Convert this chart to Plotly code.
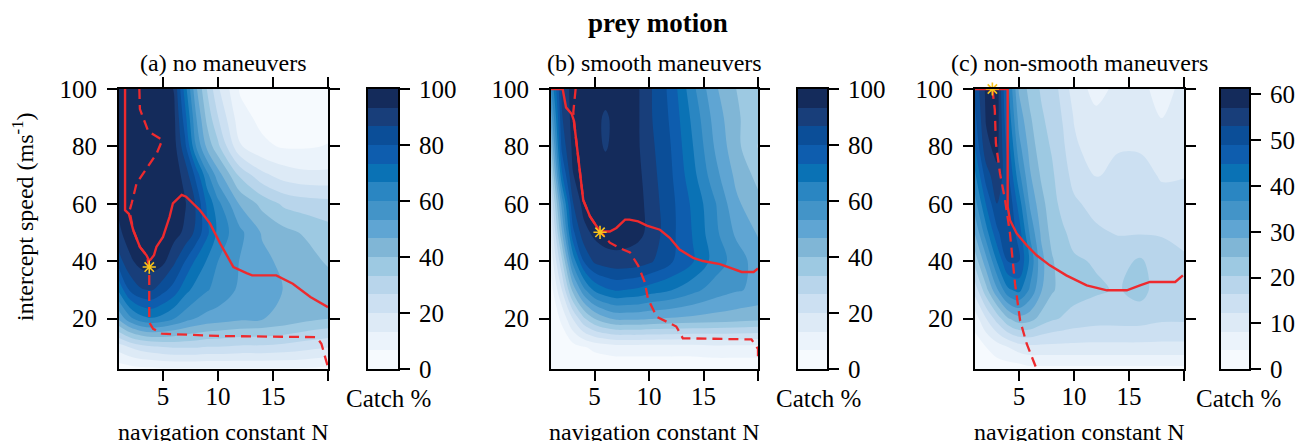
import plotly.graph_objects as go

# ---------------- data ----------------
N_GRID = [1, 2, 3, 4, 5, 6, 7, 8, 9, 10, 12, 14, 16, 18, 20]
V_GRID = [2.5, 10, 20, 30, 40, 50, 60, 70, 80, 90, 100]

# rows follow V_GRID (low speed -> high speed), columns follow N_GRID
CATCH_A = [
    [3, 4, 5, 5, 6, 6, 6, 6, 6, 6, 6, 6, 6, 6, 5],
    [16, 20, 23, 25, 26, 27, 27, 27, 26, 26, 25, 25, 24, 22, 20],
    [48, 58, 64, 66, 64, 60, 56, 53, 51, 50, 48, 47, 45, 42, 40],
    [68, 81, 86, 87, 82, 77, 69, 64, 60.5, 58, 52, 49, 46.5, 45, 44],
    [84, 92, 96, 97, 95, 88, 80, 72, 66, 60, 53, 48.5, 45, 43, 39],
    [92, 97, 99, 99, 98, 96, 92, 85, 75, 65, 55, 46, 42, 39, 36],
    [95, 98, 99, 99, 99, 97, 94, 86, 72, 62, 46, 38, 32, 30, 29],
    [96, 99, 99, 99, 98, 97, 91, 78, 62, 50, 32, 22, 17, 15, 15],
    [96, 99, 99, 99, 98, 96, 82, 60, 45, 35, 14, 8, 6, 6, 7],
    [97, 99, 99, 99, 98, 95, 76, 54, 38, 27, 9, 5, 4, 4, 4],
    [97, 99, 99, 98, 97, 93, 70, 48, 33, 21, 6, 3, 2, 2, 2],
]

CATCH_B = [
    [1, 1, 1, 2, 2, 2, 2, 2, 2, 2, 2, 2, 2, 2, 2],
    [1, 2, 4, 6, 8, 9, 10, 10, 10, 10, 10, 10, 11, 11, 11],
    [2, 8, 20, 32, 40, 45, 48, 48, 48, 47, 46, 45, 44, 43, 42],
    [4, 20, 42, 58, 68, 72, 74, 73, 72, 70, 67, 62, 57, 54, 52],
    [9, 32, 62, 80, 88, 90, 91, 91, 90, 88, 81, 74, 64, 57, 50],
    [14, 46, 78, 91, 95, 97, 97, 96, 95, 92, 82, 73, 62, 52, 46],
    [21, 56, 86, 96, 97, 97, 97, 97, 96, 91, 82, 72, 61, 48, 42],
    [30, 72, 93, 97, 97, 97, 97, 96, 95, 90, 81, 69, 56, 45, 38],
    [40, 82, 95, 97, 96, 92.5, 96, 96, 94, 89, 80, 67, 53, 42, 33],
    [50, 86, 96, 97, 96, 92, 96, 96, 94, 88, 79, 65, 51, 41, 36],
    [60, 88, 96, 97, 97, 97, 97, 96, 94, 88, 78, 62, 48, 40, 36],
]

CATCH_C = [
    [1, 1, 2, 2, 2, 3, 3, 3, 3, 3, 3, 3, 3, 3, 3],
    [2, 4, 6, 8, 10, 11, 11, 11, 11, 11, 11, 11, 11, 11, 11],
    [6, 12, 18, 24, 27, 26, 23, 21, 20, 19, 18, 18, 18, 17, 17],
    [14, 23, 32, 40, 42, 36, 29, 25, 23, 22, 21, 20, 22, 18, 18],
    [22, 31, 41, 49, 49, 40, 30, 25, 22, 21, 20, 19, 21, 18, 17],
    [29, 39, 48, 53, 47, 36, 28, 23, 21, 19, 17, 16, 16, 16, 15],
    [35, 45, 53, 53, 43, 32, 26, 22, 19, 17, 15, 15, 14, 13, 14],
    [40, 51, 56, 50, 38, 29, 24, 21, 18, 15, 12, 13, 13, 12, 12],
    [45, 56, 58.5, 47, 34, 27, 22, 20, 17, 13, 10, 12, 12, 11, 11],
    [48, 57.5, 59.5, 44, 31, 25, 21, 19, 16, 12, 9, 11, 10, 8, 10],
    [50, 58, 59.5, 42, 28, 23, 20, 18, 15, 10, 7, 9, 9, 7, 9],
]

SOLID_A_N = [1.5, 1.55, 1.55, 1.9, 2.3, 2.9, 3.5, 3.7, 3.85, 4.18, 4.4, 5.0, 5.6, 5.9, 6.7, 7.1,
             8.36, 9.27, 10.2, 11.4, 12.6, 13.1, 15.3, 16.8, 18.4, 20.0]
SOLID_A_V = [100, 100, 57.8, 56.5, 50.8, 45.0, 42.1, 40.5, 40.5, 42.1, 45.0, 48.5, 55.5, 60.2, 63.1, 62.5,
             57.8, 53.2, 46.2, 38.0, 35.9, 35.1, 35.1, 32.2, 27.6, 24.0]
DASH_A_N = [2.85, 2.9, 3.67, 4.94, 4.43, 3.2, 2.6, 2.15, 1.95, 2.3, 2.9, 3.5, 3.75, 3.75, 4.1, 4.9,
            10.0, 18.95, 19.4, 20.0]
DASH_A_V = [100, 93.0, 85.2, 82.3, 77.6, 70.6, 67.2, 60.2, 57.5, 50.8, 45.0, 42.1, 38.0, 18.8, 16.5, 14.8,
            14.0, 13.6, 11.3, 3.1]
STAR_A = [3.75, 38.0]

SOLID_B_N = [1.0, 2.07, 2.38, 2.9, 3.1, 3.35, 3.66, 3.96, 4.58, 5.5, 6.4, 7.0, 7.8, 8.2, 9.0, 9.8, 11.0,
             11.9, 12.8, 14.05, 14.95, 16.5, 17.4, 18.5, 19.6, 20.0]
SOLID_B_V = [100, 100, 93.6, 91.3, 89.0, 80.9, 70.5, 61.3, 55.6, 50.4, 50.4, 51.6, 54.5, 54.5, 53.9, 52.4,
             51.0, 48.2, 44.1, 41.2, 40.1, 39.0, 37.8, 36.3, 36.3, 37.5]
DASH_B_N = [3.26, 3.05, 3.1, 3.35, 3.66, 3.96, 4.58, 5.5, 6.4, 7.2, 8.25, 9.0, 9.6, 9.9, 10.7, 12.5,
            13.1, 18.6, 19.4, 20.0, 20.0]
DASH_B_V = [100, 92.0, 89.0, 80.9, 70.5, 61.3, 55.6, 50.4, 46.5, 44.8, 43.1, 38.5, 32.8, 27.0, 20.7, 17.3,
            13.2, 13.0, 12.8, 9.5, 6.0]
STAR_B = [5.5, 50.1]

SOLID_C_N = [1.0, 3.97, 3.97, 4.18, 4.79, 5.7, 6.6, 7.8, 9.3, 11.15, 13.0, 14.8, 16.0, 16.9, 19.2, 19.9]
SOLID_C_V = [100, 100, 59.0, 54.3, 49.7, 45.6, 42.1, 38.6, 35.1, 31.6, 29.9, 29.9, 31.6, 32.8, 32.8, 35.1]
DASH_C_N = [2.58, 2.8, 2.9, 3.27, 3.73, 4.18, 4.64, 5.1, 5.7, 6.6]
DASH_C_V = [100, 92.8, 81.1, 70.7, 61.4, 49.7, 32.2, 19.4, 11.3, 2.5]
STAR_C = [2.58, 100.0]

PANEL_TITLES = ["(a) no maneuvers", "(b) smooth maneuvers", "(c) non-smooth maneuvers"]
CBAR_MAX = [100, 100, 61.2]
CBAR_TICKS = [[0, 20, 40, 60, 80, 100], [0, 20, 40, 60, 80, 100], [0, 10, 20, 30, 40, 50, 60]]
X_TICKS = [5, 10, 15, 20]
X_TICKTEXT = ["5", "10", "15", " "]
Y_TICKS = [20, 40, 60, 80, 100]

BAND_COLORS = ['#F6FAFE', '#EBF3FB', '#DDEAF6', '#CCE0F2', '#B8D5EB', '#9DC9E2', '#80B6D6', '#5FA5D3',
               '#4394C8', '#2A86C2', '#0A72B5', '#0E5DAE', '#0B4E98', '#183E7A', '#142B5B']

# ---------------- styling / layout ----------------
W, H = 1303, 441
FONT = "Liberation Serif"
RED = "#EE2A2E"
STAR_COLOR = "#F7C21B"

PLOT_PX = [(119, 328), (551, 758), (975, 1184)]
CBAR_PX = [(368, 398), (798, 827), (1221, 1249)]
CATCH_LABEL_X = [389, 818, 1238]
Y_TOP, Y_BOT = 89, 369
YDOM = [1 - Y_BOT / H, 1 - Y_TOP / H]

nb = len(BAND_COLORS)
CS = []
for i, c in enumerate(BAND_COLORS):
    CS.append([i / nb, c])
    CS.append([(i + 1) / nb, c])

panels = [
    (CATCH_A, SOLID_A_N, SOLID_A_V, DASH_A_N, DASH_A_V, STAR_A),
    (CATCH_B, SOLID_B_N, SOLID_B_V, DASH_B_N, DASH_B_V, STAR_B),
    (CATCH_C, SOLID_C_N, SOLID_C_V, DASH_C_N, DASH_C_V, STAR_C),
]

fig = go.Figure()
layout = dict(
    width=W, height=H, autosize=False,
    margin=dict(l=0, r=0, t=0, b=0, pad=0, autoexpand=False),
    paper_bgcolor="white", plot_bgcolor="white", showlegend=False,
    font=dict(family=FONT, size=24, color="black"),
)

annotations = []
TICKFONT = dict(family=FONT, size=25, color="black")
axis_common = dict(showgrid=False, zeroline=False, showline=True, linecolor="black", linewidth=1.8,
                   ticks="outside", ticklen=10, tickwidth=1.6, tickcolor="black",
                   tickfont=TICKFONT, automargin=False)

for i, (Z, sn, sv, dn, dv, star) in enumerate(panels):
    k = "" if i == 0 else str(i + 1)
    xa, ya = "x" + k, "y" + k
    zmax = CBAR_MAX[i]
    step = zmax / nb
    fig.add_trace(go.Contour(
        x=N_GRID, y=V_GRID, z=Z, xaxis=xa, yaxis=ya,
        colorscale=CS, autocontour=False,
        contours=dict(start=step, end=zmax - step, size=step, coloring="fill", showlines=False),
        line=dict(width=0, smoothing=1.0), showscale=False, hoverinfo="skip",
    ))
    fig.add_trace(go.Scatter(x=dn, y=dv, xaxis=xa, yaxis=ya, mode="lines",
                             line=dict(color=RED, width=2.3, dash="10px,6px"), cliponaxis=False,
                             hoverinfo="skip"))
    fig.add_trace(go.Scatter(x=sn, y=sv, xaxis=xa, yaxis=ya, mode="lines",
                             line=dict(color=RED, width=2.4), cliponaxis=False, hoverinfo="skip"))
    fig.add_trace(go.Scatter(x=[star[0]], y=[star[1]], xaxis=xa, yaxis=ya, mode="markers",
                             marker=dict(symbol="asterisk-open", size=11, color=STAR_COLOR,
                                         line=dict(color=STAR_COLOR, width=1.6)),
                             cliponaxis=False, hoverinfo="skip"))

    x0, x1 = PLOT_PX[i]
    layout["xaxis" + k] = dict(axis_common, domain=[x0 / W, x1 / W], anchor=ya, range=[1, 20],
                               tickvals=X_TICKS, ticktext=X_TICKTEXT, mirror="ticks",
                               ticklabelstandoff=-6)
    layout["yaxis" + k] = dict(axis_common, domain=YDOM, anchor=xa, range=[2.5, 100],
                               tickvals=Y_TICKS, mirror="ticks", ticklabelstandoff=5)

    # colorbar as its own small subplot
    kc = str(i + 4)
    centers = [(j + 0.5) * step for j in range(nb)]
    fig.add_trace(go.Heatmap(x=[0.5], y=centers, z=[[c] for c in centers], colorscale=CS,
                             zmin=0, zmax=zmax, showscale=False, hoverinfo="skip",
                             xaxis="x" + kc, yaxis="y" + kc))
    c0, c1 = CBAR_PX[i]
    layout["xaxis" + kc] = dict(domain=[c0 / W, c1 / W], anchor="y" + kc, range=[0, 1],
                                showgrid=False, zeroline=False, showline=True, linecolor="black",
                                linewidth=1.8, mirror=True, ticks="", showticklabels=False,
                                automargin=False)
    layout["yaxis" + kc] = dict(axis_common, domain=YDOM, anchor="x" + kc, range=[0, zmax],
                                side="right", mirror=True, tickvals=CBAR_TICKS[i],
                                ticklabelstandoff=4)

    cx = (x0 + x1) / 2 / W
    annotations.append(dict(text=PANEL_TITLES[i], x=cx, y=1 - 63 / H, xref="paper", yref="paper",
                            showarrow=False, xanchor="center", yanchor="middle",
                            font=dict(family=FONT, size=24)))
    annotations.append(dict(text="navigation constant N", x=cx, y=1 - 432 / H, xref="paper",
                            yref="paper", showarrow=False, xanchor="center", yanchor="middle",
                            font=dict(family=FONT, size=24)))
    annotations.append(dict(text="Catch %", x=CATCH_LABEL_X[i] / W, y=1 - 398 / H, xref="paper",
                            yref="paper", showarrow=False, xanchor="center", yanchor="middle",
                            font=dict(family=FONT, size=25)))

annotations.append(dict(text="<b>prey motion</b>", x=658 / W, y=1 - 23 / H, xref="paper", yref="paper",
                        showarrow=False, xanchor="center", yanchor="middle",
                        font=dict(family=FONT, size=27)))
annotations.append(dict(text="intercept speed (ms<sup>-1</sup>)", x=23 / W, y=1 - 217 / H,
                        xref="paper", yref="paper", showarrow=False, textangle=-90,
                        xanchor="center", yanchor="middle", font=dict(family=FONT, size=24)))
layout["annotations"] = annotations

fig.update_layout(**layout)
fig.write_html("out.html", config={"displayModeBar": False},
               post_script="document.body.style.margin='0px';")
